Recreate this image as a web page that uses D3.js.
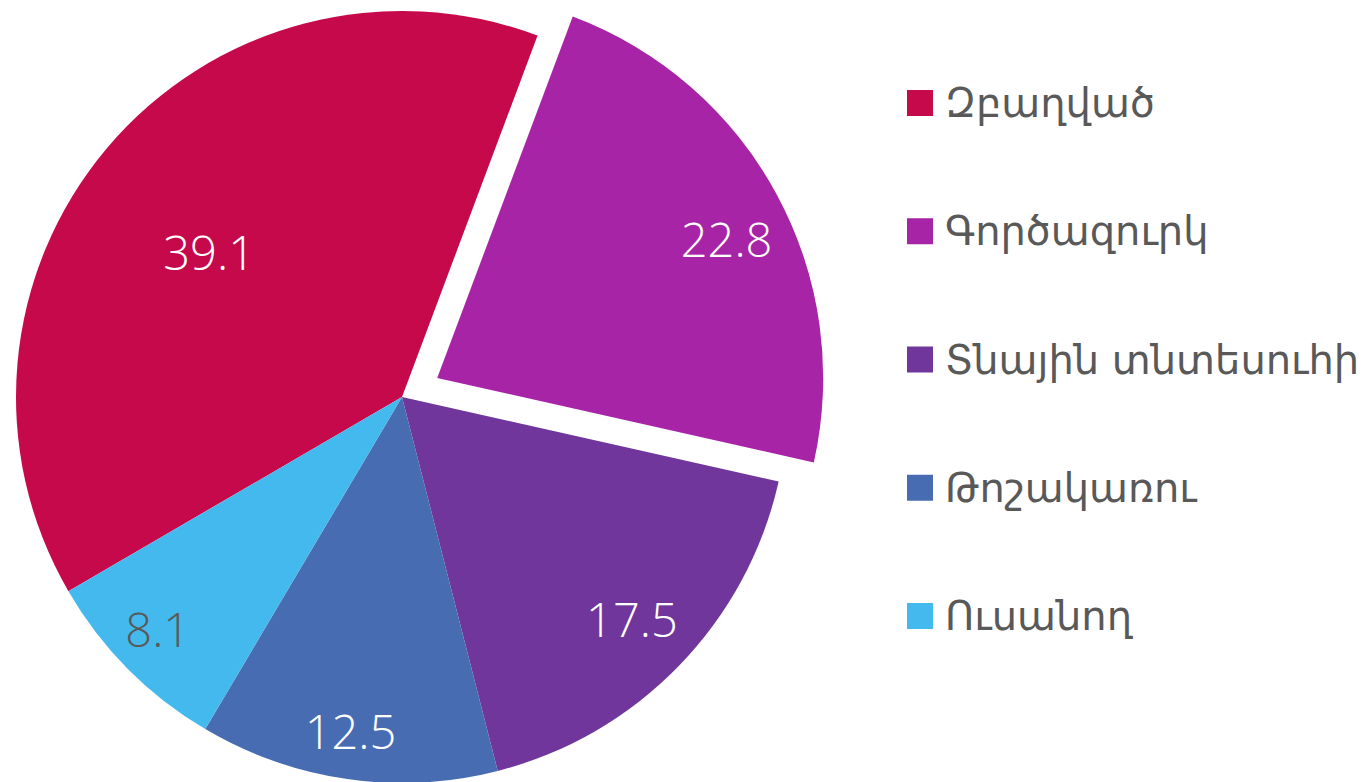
<!DOCTYPE html>
<html><head><meta charset="utf-8">
<script src="https://cdn.jsdelivr.net/npm/d3@7"></script>
<style>body{margin:0;background:#fff}svg{display:block}</style>
</head><body>
<svg id="c" width="1369" height="782"></svg>
<script>
const categories = ["Զբաղված","Գործազուրկ","Տնային տնտեսուհի","Թոշակառու","Ուսանող"];
const values = [39.1, 22.8, 17.5, 12.5, 8.1];
const colors = ["#C5094A","#A724A6","#70369C","#476CB2","#43B9EE"];
const labelColors = ["#fff","#fff","#fff","#fff","#595959"];
const labelRadiusFrac = [0.623, 0.83, 0.83, 0.877, 0.875];
const labelAngleShift = [-3.5, 3, 0, 0.6, 1.1];
const explode = [0, 40, 0, 0, 0];

const svg = d3.select("#c");
const cx = 402, cy = 397, r = 386;
const startDeg = -120.2;
const pie = d3.pie().sort(null).value(d=>d)
  .startAngle(startDeg*Math.PI/180).endAngle((startDeg+360)*Math.PI/180);
const arcs = pie(values);
const arc = d3.arc().innerRadius(0).outerRadius(r);
const g = svg.append("g").attr("transform",`translate(${cx},${cy})`);

arcs.forEach((a,i)=>{
  const mid = (a.startAngle+a.endAngle)/2;
  const ox = Math.sin(mid)*explode[i], oy = -Math.cos(mid)*explode[i];
  const gg = g.append("g").attr("transform",`translate(${ox},${oy})`);
  gg.append("path").attr("d",arc(a)).attr("fill",colors[i]);
  const lr = r*labelRadiusFrac[i];
  const la = mid + labelAngleShift[i]*Math.PI/180;
  gg.append("text")
    .attr("x", Math.sin(la)*lr).attr("y", -Math.cos(la)*lr)
    .attr("dy","0.36em")
    .attr("text-anchor","middle")
    .attr("font-family","'Open Sans', sans-serif").attr("font-weight",300)
    .attr("font-size",47).attr("fill",labelColors[i])
    .text(values[i]);
});

const legY = d3.scalePoint().domain(categories).range([103,616]);
const leg = svg.append("g");
categories.forEach((c,i)=>{
  const y = legY(c);
  leg.append("rect").attr("x",907).attr("y",y-13).attr("width",26).attr("height",26).attr("fill",colors[i]);
  leg.append("text").attr("x",945).attr("y",y).attr("dominant-baseline","central")
    .attr("font-family","'DejaVu Sans', sans-serif").attr("font-size",40)
    .attr("fill","#595959").text(c);
});
</script>
</body></html>
